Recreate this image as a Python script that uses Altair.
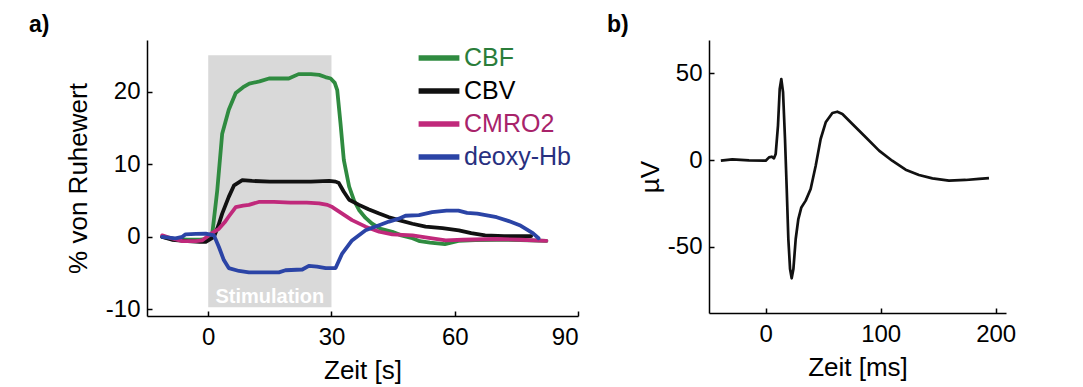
import altair as alt
import pandas as pd

# ---------------- Panel a data (Zeit [s], % von Ruhewert) ----------------
series_names = ["CBF", "CBV", "CMRO2", "deoxy-Hb"]
series_colors = ["#2f8b40", "#111111", "#c0297b", "#2b44a6"]
label_colors = ["#2a7d3a", "#000000", "#a8236a", "#28307f"]

cbf_t = [-11.2, -8, -5, -2, -0.6, 1.0, 2.2, 3.4, 5.0, 6.7, 8.5, 10.0, 12.5, 14.8, 17, 19.6, 22.0, 25,
         27.0, 28.5, 29.8, 30.8, 31.4, 32.2, 33.0, 34.3, 35.5, 36.7, 38.3, 39.9, 42, 44.8, 47, 49.7,
         51.5, 54, 57.6, 60.9, 65, 70.2, 76, 82.3]
cbf_v = [0, -0.3, -0.4, -0.4, -0.3, 0.5, 6.4, 14.2, 17.5, 19.8, 20.6, 21.1, 21.4, 21.8, 21.8, 21.8, 22.4,
         22.4, 22.3, 22.0, 21.8, 21.2, 20.2, 15.6, 10.6, 6.9, 5.0, 3.7, 2.6, 1.8, 1.1, 0.7, 0.2, -0.2,
         -0.6, -0.8, -1.0, -0.55, -0.45, -0.4, -0.45, -0.55]

cbv_t = [-11.2, -8.8, -5, -2, -0.6, 1.4, 2.5, 3.4, 5.0, 6.3, 8.3, 10.7, 15, 20, 25, 29.4, 31.0, 31.8,
         33.0, 34.3, 36.7, 39, 41.6, 44, 46.4, 49.7, 52.9, 57, 61, 64, 67.4, 72, 78.6]
cbv_v = [0, -0.4, -0.6, -0.7, -0.7, 0, 1.6, 3.2, 5.5, 7.1, 7.8, 7.7, 7.6, 7.6, 7.6, 7.7, 7.6, 7.4,
         6.2, 5.1, 4.4, 3.8, 3.2, 2.7, 2.3, 1.8, 1.4, 1.2, 0.9, 0.5, 0.2, 0.1, 0.1]

cmro2_t = [-11.2, -9, -6.3, -3, -1.5, 1.0, 2.6, 4, 5.0, 6.7, 8.5, 9.9, 12.3, 16, 20, 24, 27.0, 29,
           30.2, 32.6, 35.0, 38.3, 41.6, 44.8, 49.7, 54.5, 57.8, 62, 70.2, 76, 82.3]
cmro2_v = [0.2, -0.2, -0.6, -0.6, -0.5, 0.55, 1.1, 2.0, 2.8, 4.1, 4.3, 4.4, 4.8, 4.8, 4.7, 4.7, 4.6,
           4.4, 4.1, 3.2, 2.3, 1.4, 0.7, 0.35, 0.2, -0.2, -0.5, -0.4, -0.3, -0.4, -0.55]

dhb_t = [-11.2, -8, -6.3, -5.5, -3, -0.6, 1.4, 2.6, 3.8, 5.0, 7.5, 9.9, 13, 17.2, 18.8, 22.9, 24.5,
         26.5, 28.6, 31.0, 32.6, 35.0, 38.3, 41.6, 44, 46.4, 48, 51.3, 54.5, 58, 60.9, 63, 65.5, 70.2,
         73, 75.8, 79.0, 80.4]
dhb_v = [0, -0.2, 0, 0.35, 0.4, 0.45, 0.2, -1.4, -3.2, -4.3, -4.7, -4.9, -4.9, -4.9, -4.6, -4.5, -4.0,
         -4.1, -4.3, -4.3, -2.3, -0.5, 0.9, 1.6, 2.1, 2.5, 2.9, 3.0, 3.4, 3.6, 3.6, 3.3, 3.2, 2.7,
         2.2, 1.6, 0.5, -0.2]

stim_start, stim_end = 0, 30
stim_low, stim_high = -9.7, 25.0
stim_label = "Stimulation"

x_ticks_a = [0, 30, 60, 90]
y_ticks_a = [-10, 0, 10, 20]

# ---------------- Panel b data (Zeit [ms], µV) ----------------
erp_t = [-39, -29, -14.5, 0, 2.9, 5.2, 7.2, 8.7, 10.7, 12.2, 13.6, 15.1, 16.8, 18.3, 19.7, 21.2, 22.6,
         24.1, 26.1, 28.4, 31, 34.8, 39.1, 43.5, 47.8, 52.2, 58, 62.3, 66.7, 75.4, 87, 98.6, 110,
         121.7, 133.3, 145, 159.4, 173.9, 185.5, 194.2]
erp_v = [-0.4, 0.4, -0.2, -0.4, 1.5, 1.9, 1.0, 3.5, 19.8, 40.9, 46.6, 39, 12.1, -16.7, -45.5, -62.8,
         -68.1, -62.8, -45.5, -34, -27.3, -23.4, -16.7, -3.3, 12.1, 21.7, 27.1, 27.8, 26.5, 20.7,
         13.1, 5.4, -0.4, -5.6, -8.6, -10.6, -11.9, -11.5, -10.9, -10.4]

x_ticks_b = [0, 100, 200]
y_ticks_b = [-50, 0, 50]

# ---------------- build tables ----------------
rows = []
for name, ts, vs in zip(series_names, [cbf_t, cbv_t, cmro2_t, dhb_t], [cbf_v, cbv_v, cmro2_v, dhb_v]):
    for i, (t, v) in enumerate(zip(ts, vs)):
        rows.append({"series": name, "t": t, "v": v, "i": i})
df_a = pd.DataFrame(rows)
df_stim = pd.DataFrame([{"x": stim_start, "x2": stim_end, "y": stim_low, "y2": stim_high,
                         "label": stim_label, "xm": (stim_start + stim_end) / 2, "ym": -8.3}])
df_b = pd.DataFrame({"t": erp_t, "v": erp_v, "i": list(range(len(erp_t)))})

FONT = "Liberation Sans"
LABEL_EXPR = "'' + datum.value"

color_expr = " : ".join(
    [f"datum.label == '{n}' ? '{c}'" for n, c in zip(series_names, label_colors)]
) + " : 'black'"


def xaxis(vals):
    return alt.Axis(values=vals, titlePadding=8, labelPadding=14, labelExpr=LABEL_EXPR)


def yaxis(vals, tp):
    return alt.Axis(values=vals, titlePadding=tp, labelPadding=12, labelExpr=LABEL_EXPR)


xs_a = alt.Scale(domain=[-14.9, 90], nice=False, zero=False)
ys_a = alt.Scale(domain=[-10.9, 27.1], nice=False, zero=False)

band = alt.Chart(df_stim).mark_rect(color="#d9d9d9").encode(
    x=alt.X("x:Q", scale=xs_a), x2="x2:Q",
    y=alt.Y("y:Q", scale=ys_a), y2="y2:Q",
)
stim_text = alt.Chart(df_stim).mark_text(
    color="white", font=FONT, fontSize=20, fontWeight="bold", baseline="middle", align="center"
).encode(x=alt.X("xm:Q", scale=xs_a), y=alt.Y("ym:Q", scale=ys_a), text="label:N")

lines_a = alt.Chart(df_a).mark_line(strokeWidth=3.8, strokeJoin="round", strokeCap="round").encode(
    x=alt.X("t:Q", scale=xs_a, title="Zeit [s]", axis=xaxis(x_ticks_a)),
    y=alt.Y("v:Q", scale=ys_a, title="% von Ruhewert", axis=yaxis(y_ticks_a, 14)),
    color=alt.Color("series:N",
                    scale=alt.Scale(domain=series_names, range=series_colors),
                    legend=alt.Legend(orient="none", legendX=272, legendY=-2, title=None,
                                      symbolType="M-1.2,0L1.2,0", symbolSize=1156,
                                      symbolStrokeWidth=5.5,
                                      labelFont=FONT, labelFontSize=25, labelOffset=5,
                                      rowPadding=0,
                                      labelColor={"expr": color_expr})),
    order="i:Q",
)

panel_a = alt.layer(band, stim_text, lines_a).properties(
    width=431, height=276,
    title=alt.TitleParams("a)", anchor="start", frame="group", dx=-118, fontSize=23,
                          fontWeight="bold", font=FONT, offset=3),
)

xs_b = alt.Scale(domain=[-49.3, 209], nice=False, zero=False)
ys_b = alt.Scale(domain=[-88.1, 69.1], nice=False, zero=False)
panel_b = alt.Chart(df_b).mark_line(color="#111111", strokeWidth=2.7, strokeJoin="round").encode(
    x=alt.X("t:Q", scale=xs_b, title="Zeit [ms]", axis=xaxis(x_ticks_b)),
    y=alt.Y("v:Q", scale=ys_b, title="µV", axis=yaxis(y_ticks_b, 4)),
    order="i:Q",
).properties(
    width=297, height=273,
    title=alt.TitleParams("b)", anchor="start", frame="group", dx=-102, fontSize=23,
                          fontWeight="bold", font=FONT, offset=3),
)

chart = alt.hconcat(panel_a, panel_b, spacing=28).properties(
    padding={"left": 21, "top": 6, "right": 5, "bottom": 5},
    background="white",
).configure_view(stroke=None).configure_axis(
    grid=False, domainColor="black", domainWidth=1.5, tickColor="black", tickWidth=1.5,
    tickSize={"expr": "-5"}, labelFont=FONT, labelFontSize=24, labelColor="black",
    titleFont=FONT, titleFontSize=26, titleFontWeight="normal", titleColor="black",
)

chart.save("out.html", embed_options={"renderer": "svg", "actions": False})
